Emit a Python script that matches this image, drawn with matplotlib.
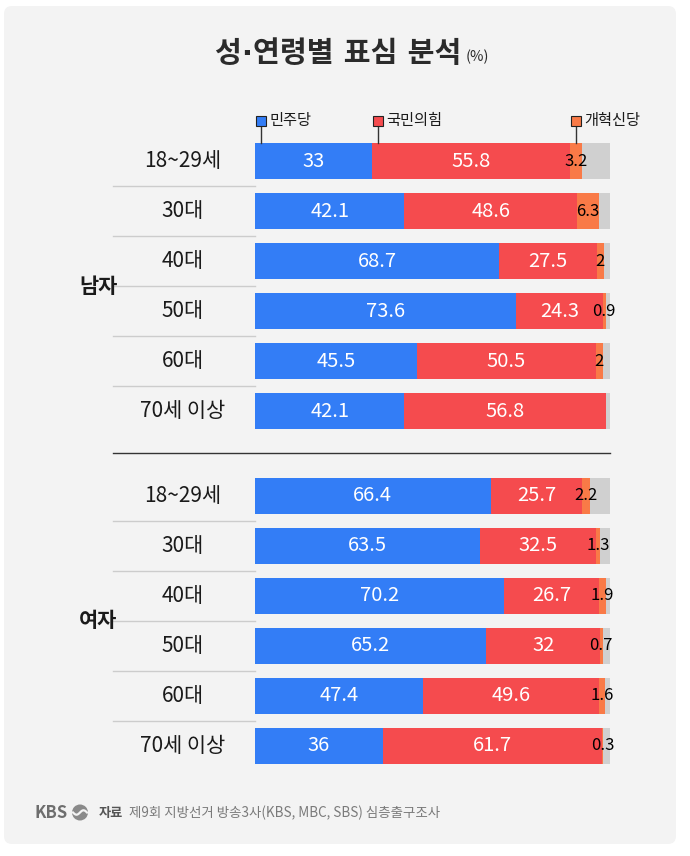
import numpy as np
import matplotlib
matplotlib.use('Agg')
import matplotlib.pyplot as plt
from matplotlib.patches import FancyBboxPatch, Circle

plt.rcParams['font.family'] = ['Noto Sans CJK KR', 'DejaVu Sans']

# data (%)
ages = ['18~29세', '30대', '40대', '50대', '60대', '70세 이상']
groups = ['남자', '여자']
parties = ['민주당', '국민의힘', '개혁신당']

men_dem = [33, 42.1, 68.7, 73.6, 45.5, 42.1]
men_ppp = [55.8, 48.6, 27.5, 24.3, 50.5, 56.8]
men_ref = [3.2, 6.3, 2, 0.9, 2, None]

women_dem = [66.4, 63.5, 70.2, 65.2, 47.4, 36]
women_ppp = [25.7, 32.5, 26.7, 32, 49.6, 61.7]
women_ref = [2.2, 1.3, 1.9, 0.7, 1.6, 0.3]

BLUE = '#337df6'
RED = '#f54b4e'
ORANGE = '#f97a47'
REST = '#d0d0d0'
BG = '#f3f3f3'
TXT = '#1a1a1a'

BAR_H = 0.72
GAP = 1.688   # distance between last men row and first women row


def fmt(v):
    return f'{v:g}'


def draw_group(ax, ys, dem, ppp, ref, label):
    dem = np.array(dem, dtype=float)
    ppp = np.array(ppp, dtype=float)
    ref_v = np.array([r if r is not None else 0 for r in ref], dtype=float)
    rest = 100 - dem - ppp - ref_v

    ax.barh(ys, dem, height=BAR_H, color=BLUE, lw=0)
    ax.barh(ys, ppp, left=dem, height=BAR_H, color=RED, lw=0)
    ax.barh(ys, ref_v, left=dem + ppp, height=BAR_H, color=ORANGE, lw=0)
    ax.barh(ys, rest, left=dem + ppp + ref_v, height=BAR_H, color=REST, lw=0)

    for i, y in enumerate(ys):
        ax.text(dem[i] / 2, y, fmt(dem[i]), color='white', fontsize=14.5,
                ha='center', va='center')
        ax.text(dem[i] + ppp[i] / 2, y, fmt(ppp[i]), color='white', fontsize=14.5,
                ha='center', va='center')
        if ref[i] is not None:
            ax.text(dem[i] + ppp[i] + ref_v[i] / 2, y, fmt(ref[i]), color='black',
                    fontsize=12, ha='center', va='center')
        # row label
        ax.text(-20.3, y, ages[i], color=TXT, fontsize=15, ha='center', va='center',
                clip_on=False)
        if i < len(ys) - 1:
            ax.plot([-40, 0], [y + 0.5, y + 0.5], color='#cccccc', lw=1, clip_on=False)

    ax.text(-44.2, np.mean(ys), label, color=TXT, fontsize=15, fontweight='bold',
            ha='center', va='center', clip_on=False)


fig = plt.figure(figsize=(6.9, 8.56), dpi=100)
fig.patch.set_facecolor('white')

# background / layout axes in pixel units
bg = fig.add_axes([0, 0, 1, 1])
bg.set_xlim(0, 690)
bg.set_ylim(856, 0)
bg.axis('off')
bg.add_patch(FancyBboxPatch((4, 6), 672, 838, boxstyle='round,pad=0,rounding_size=8',
                            facecolor=BG, edgecolor='none'))

title = bg.text(338, 54, '성·연령별 표심 분석', fontsize=21, fontweight='bold',
                color='#2b2b2b', ha='center', va='center',
                family=['DejaVu Sans', 'Noto Sans CJK KR'])
bg.annotate('(%)', xy=(1, 0.12), xycoords=title, xytext=(3, 0), textcoords='offset points',
            fontsize=10.5, color='#2b2b2b', ha='left', va='bottom')

# footer
bg.text(35, 812.5, 'KBS', fontsize=12, fontweight='bold', color='#6e6e6e',
        ha='left', va='center')
bg.add_patch(Circle((80, 812.5), 8, facecolor='#8a8a8a', edgecolor='none'))
wx = np.linspace(73, 87, 30)
bg.plot(wx, 812.5 + 2.2 * np.sin((wx - 73) / 14 * 2 * np.pi), color=BG, lw=1.6)
src = bg.text(99, 812.5, '자료', fontsize=9.5, fontweight='bold', color='#555555',
              ha='left', va='center')
bg.annotate('제9회 지방선거 방송3사(KBS, MBC, SBS) 심층출구조사', xy=(1, 0.5), xycoords=src,
            xytext=(4, 0), textcoords='offset points', fontsize=9.7, color='#7a7a7a',
            ha='left', va='center')

# bar axes: x in %, y in rows (50 px per row)
top_px, bot_px = 136.3, 770.7
ax = fig.add_axes([255 / 690, 1 - bot_px / 856, 355 / 690, (bot_px - top_px) / 856])
ax.patch.set_alpha(0)
ax.set_xlim(0, 100)
men_y = np.arange(6)
women_y = np.arange(6) + 5 + GAP
ax.set_ylim(women_y[-1] + 0.5, -0.5)
ax.axis('off')

draw_group(ax, men_y, men_dem, men_ppp, men_ref, groups[0])
draw_group(ax, women_y, women_dem, women_ppp, women_ref, groups[1])

# group separator
mid = (men_y[-1] + women_y[0]) / 2
ax.plot([-40, 100], [mid, mid], color='#333333', lw=1, clip_on=False)

# legend with leader lines to the first bar
starts = [0, men_dem[0], men_dem[0] + men_ppp[0]]
colors = [BLUE, RED, ORANGE]
leg_y = -0.81
for name, s, c in zip(parties, starts, colors):
    mx = s + 1.7
    ax.plot([mx, mx], [leg_y, -BAR_H / 2], color='#333333', lw=1, clip_on=False, zorder=3)
    ax.plot(mx, leg_y, marker='s', ms=6.5, mfc=c, mec='#222222', mew=0.8,
            clip_on=False, zorder=4)
    ax.text(mx + 2.3, leg_y, name, fontsize=11, color=TXT, ha='left', va='center',
            clip_on=False)

fig.savefig('out.png', dpi=100, facecolor='white')
